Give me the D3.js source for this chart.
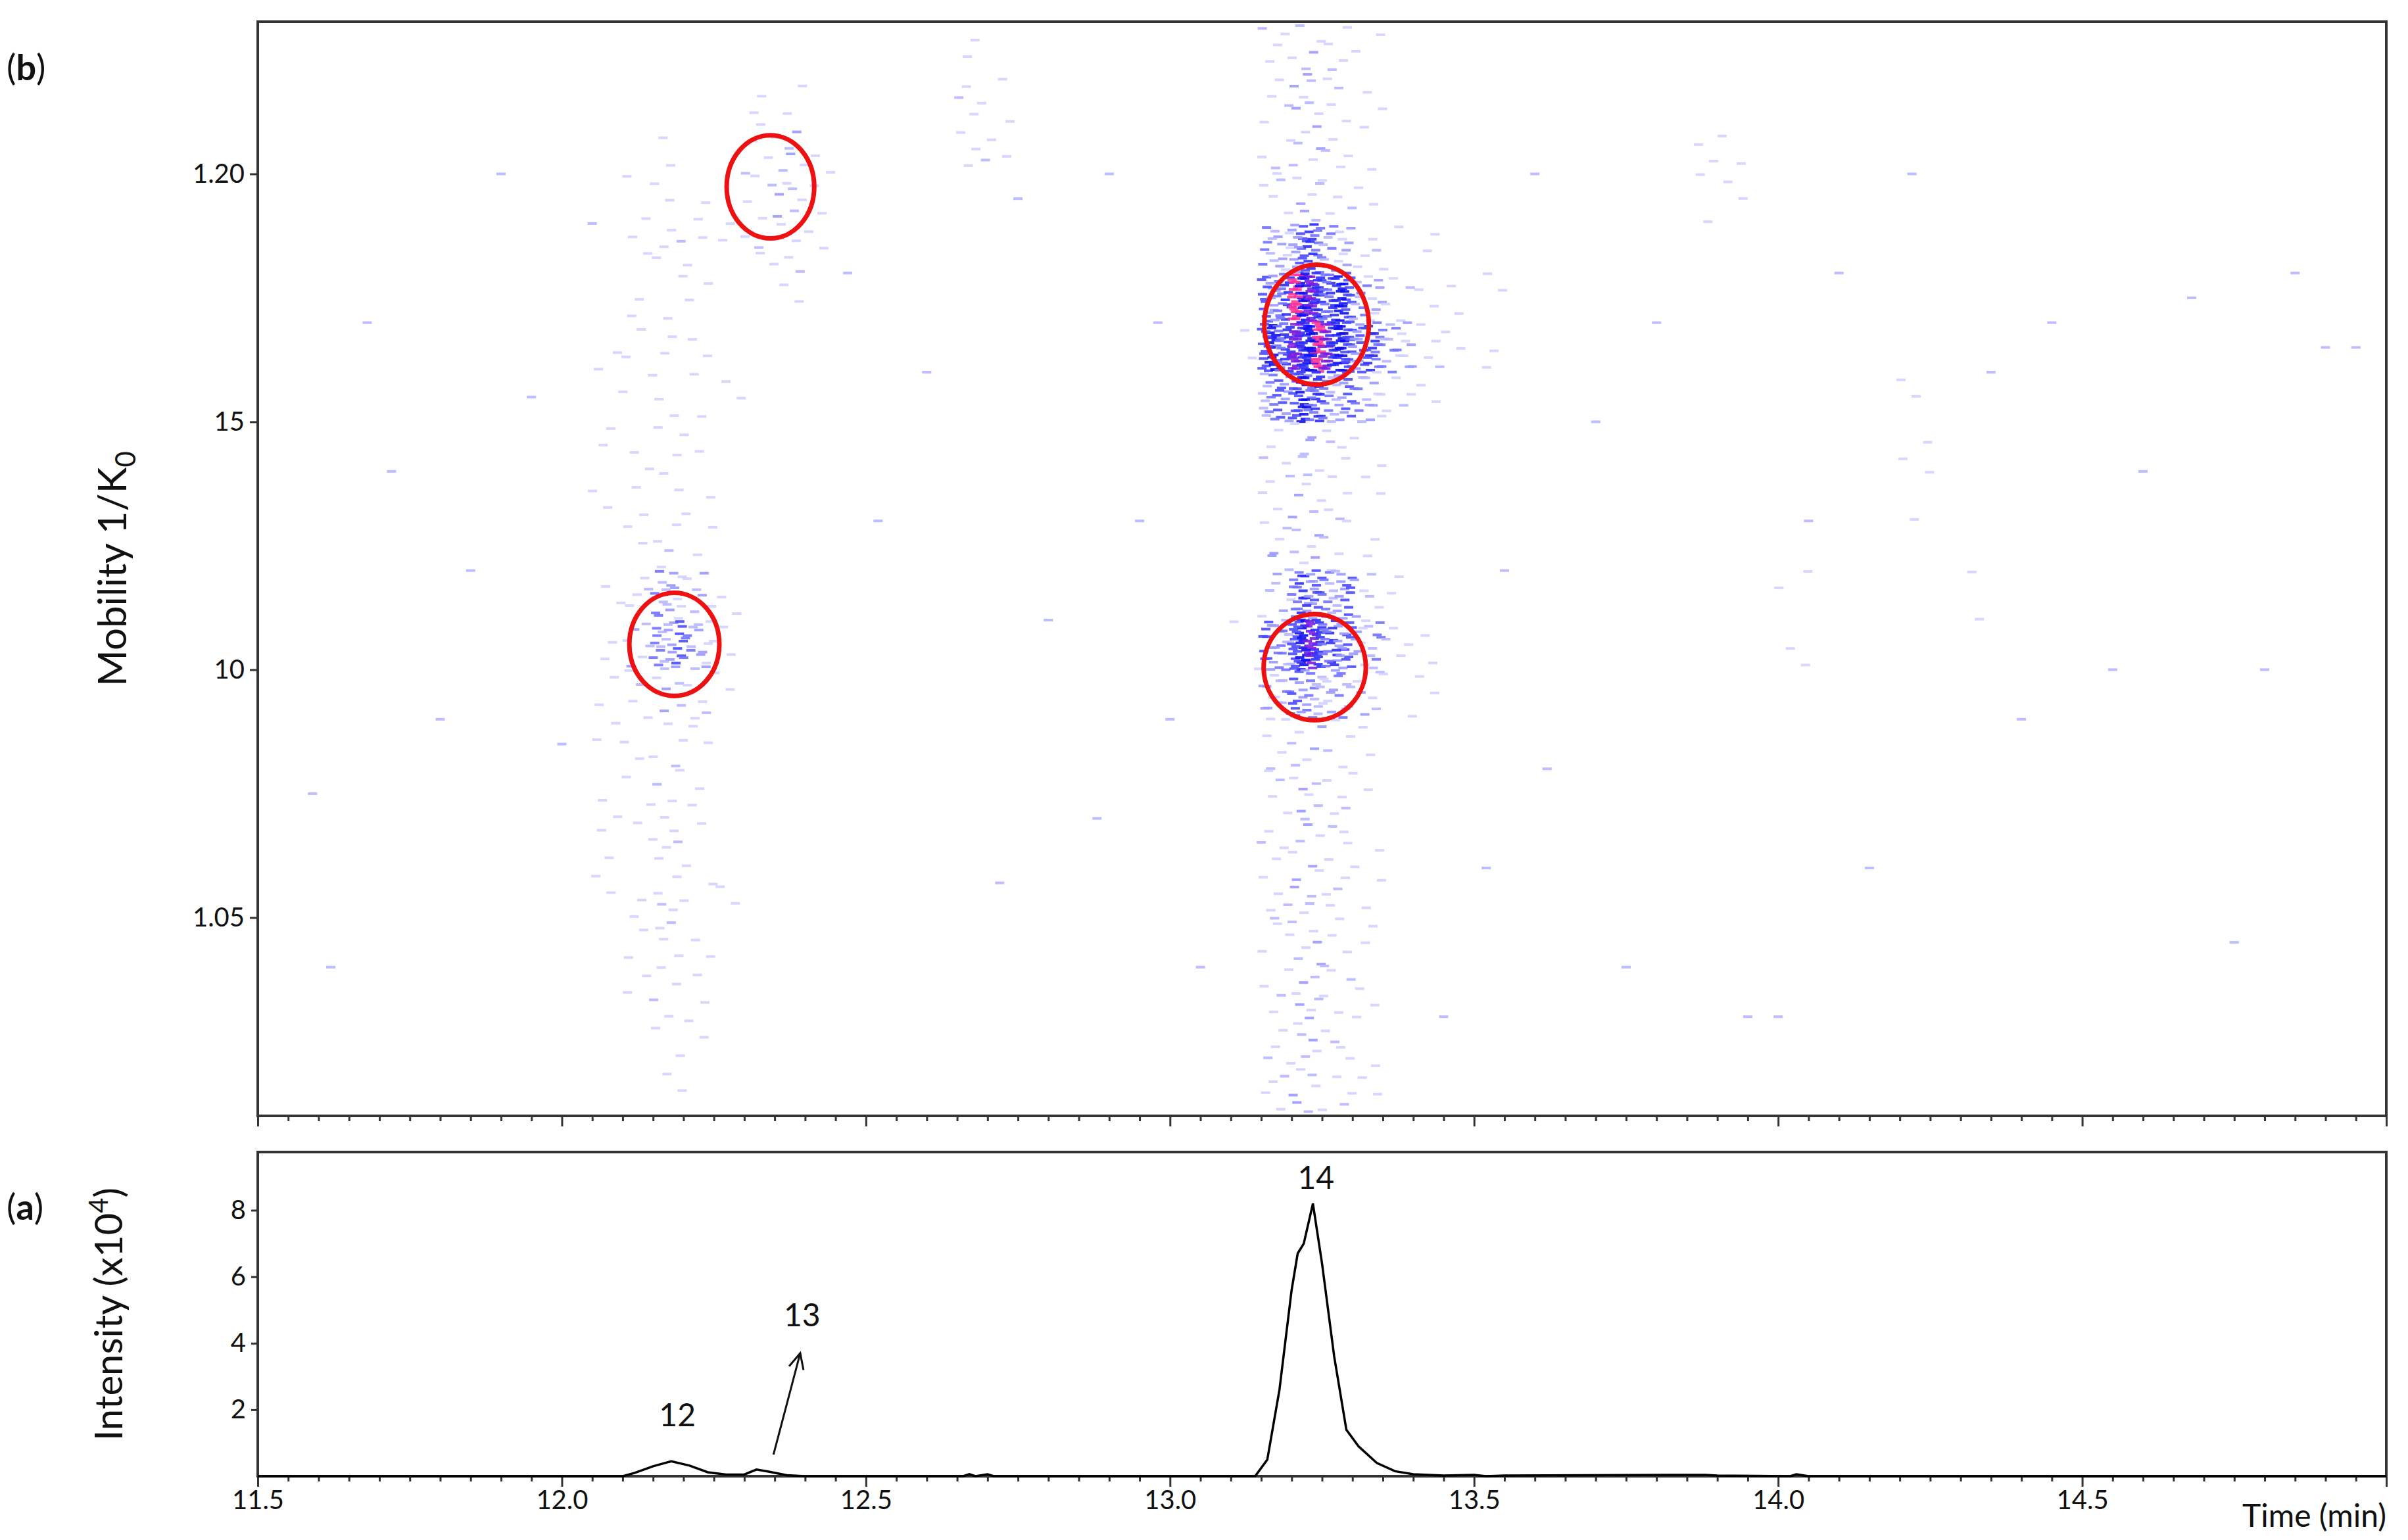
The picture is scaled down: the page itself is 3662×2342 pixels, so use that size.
<!DOCTYPE html>
<html><head><meta charset="utf-8">
<script src="https://cdn.jsdelivr.net/npm/d3@7"></script>
<style>body{margin:0;background:#fff}svg{display:block}text{font-family:Lato,"Open Sans",sans-serif;fill:#111}</style>
</head><body>
<script>
// ---------- DATA ----------
const timeTicks = [11.5,12.0,12.5,13.0,13.5,14.0,14.5];
const mobTickValues = [1.20,1.15,1.10,1.05];
const mobTickLabels = ["1.20","15","10","1.05"];
const intTicks = [2,4,6,8];
// density grid: column start time (0.05 min wide), 22 rows from 1.23 (top) to 1.01 (bottom), 0.01 each
const gridTimes = [12.05,12.10,12.15,12.20,12.25,12.30,12.35,12.40,12.65,12.70,13.10,13.15,13.20,13.25,13.30,13.35,13.40,13.45,13.50,13.85,13.90,14.00,14.20,14.30];
const gridRows = [
"0000001011011111110000",
"0001111111123211111100",
"0011211111245322222211",
"0001111111134211111110",
"0000100100011100010000",
"0122200000000000000000",
"0133210000000000000000",
"0011100000000000000000",
"1220000000000000000000",
"0110000000000000000000",
"0000001000001000000000",
"2222467522335422222222",
"3333699733368533333333",
"2222478522256422222222",
"1111246411134311111111",
"0000124200012100000000",
"0000112100001100000000",
"0000011000000000000000",
"0000011000000000000000",
"0011000000000000000000",
"0011000000000000000000",
"0000000000011000000000",
"0000000111000000000000",
"0000000000010000000000"
];
// isolated noise dots [time, mobility]
const noiseDots = [[11.62,1.04],[11.59,1.075],[11.68,1.17],[11.72,1.14],[11.8,1.09],[11.85,1.12],[11.9,1.2],[11.95,1.155],[12.0,1.085],[12.05,1.19],[12.47,1.18],[12.52,1.13],[12.6,1.16],[12.75,1.195],[12.8,1.11],[12.88,1.07],[12.9,1.2],[12.95,1.13],[13.0,1.09],[13.05,1.04],[12.98,1.17],[13.55,1.12],[13.6,1.2],[13.62,1.08],[13.7,1.15],[13.75,1.04],[13.8,1.17],[13.95,1.03],[14.05,1.13],[14.1,1.18],[14.15,1.06],[14.22,1.2],[14.35,1.16],[14.4,1.09],[14.45,1.17],[14.55,1.1],[14.6,1.14],[14.68,1.175],[14.75,1.045],[14.8,1.1],[14.85,1.18],[14.9,1.165],[14.95,1.165],[12.72,1.057],[13.45,1.03],[13.52,1.06],[14.0,1.03],[12.83,1.01]];
// red circles: [time, mobility, rx (min), ry (mobility)]
const circles = [[12.343,1.1974,0.072,0.0104],[12.185,1.1051,0.074,0.0104],[13.241,1.1696,0.086,0.0121],[13.238,1.1005,0.084,0.0107]];
// chromatogram (intensity x10^4)
const chromTime = [11.5,12.10,12.12,12.15,12.18,12.21,12.24,12.27,12.30,12.32,12.34,12.37,12.40,12.66,12.67,12.68,12.70,12.71,13.14,13.16,13.18,13.20,13.21,13.22,13.235,13.25,13.27,13.29,13.31,13.34,13.37,13.40,13.45,13.50,13.52,13.55,13.86,13.88,13.90,14.02,14.03,14.05,15.0];
const chromInt  = [0,0,0.1,0.3,0.45,0.32,0.12,0.05,0.05,0.2,0.14,0.03,0,0,0.06,0,0.06,0,0,0.5,2.6,5.6,6.7,7.0,8.2,6.4,3.6,1.4,0.9,0.4,0.15,0.06,0.02,0.04,0,0.02,0.04,0.04,0.02,0,0.06,0,0];
const peakLabels = [{t:12.19,v:1.5,label:"12"},{t:12.395,v:4.5,label:"13"},{t:13.24,v:8.65,label:"14"}];

// ---------- LAYOUT ----------
const W=3662,H=2342, L=392, R=3629, T1=33, B1=1697, T2=1752, B2=2245;
const svg=d3.select("body").append("svg").attr("width",W).attr("height",H);
const x=d3.scaleLinear().domain([11.5,15.0]).range([L,R]);
const y1=d3.scaleLinear().domain([1.01,1.2307]).range([B1,T1]);
const y2=d3.scaleLinear().domain([0,9.75]).range([B2,T2]);
const fs=40;

// heat dots (placed on a fixed low-discrepancy layout inside each cell)
function radInv(i,b){let f=1,r=0;while(i>0){f/=b;r+=f*(i%b);i=Math.floor(i/b);}return r;}
const col=d3.scaleLinear().domain([1,3,5,7,8,9]).range(["#d2d2ff","#9a9aff","#4a4aff","#1010f0","#7a1ee0","#ff3399"]);
const dots=[];
gridTimes.forEach((t,ci)=>{
  const s=gridRows[ci];
  for(let r=0;r<s.length;r++){
    const v=+s[r]; if(!v) continue;
    const n=v<=3?v*2:v*v;
    const m0=1.23-0.01*r;
    const off=ci*13+r*7;
    for(let i=0;i<n;i++){
      const fx=radInv(i+off+1,2);
      const fy=radInv(i+off+1,3);
      const lvl=Math.max(1,Math.min(9,v-((i*5)%4)));
      dots.push({t:t+fx*0.05,m:m0-fy*0.01,c:col(lvl)});
    }
  }
});
noiseDots.forEach(d=>dots.push({t:d[0],m:d[1],c:col(2)}));
svg.append("g").selectAll("rect").data(dots).join("rect")
  .attr("x",d=>x(d.t)-7).attr("y",d=>y1(d.m)-2).attr("width",14).attr("height",4)
  .attr("fill",d=>d.c).attr("opacity",0.9);

// circles
svg.append("g").selectAll("ellipse").data(circles).join("ellipse")
  .attr("cx",d=>x(d[0])).attr("cy",d=>y1(d[1]))
  .attr("rx",d=>x(d[0]+d[2])-x(d[0])).attr("ry",d=>y1(d[1]-d[3])-y1(d[1]))
  .attr("fill","none").attr("stroke","#ee1111").attr("stroke-width",7);

// frames
[[T1,B1],[T2,B2]].forEach(([a,b])=>svg.append("rect").attr("x",L).attr("y",a).attr("width",R-L).attr("height",b-a).attr("fill","none").attr("stroke","#333").attr("stroke-width",4));

// axes top
const ax1=svg.append("g").attr("transform",`translate(${L},0)`).call(d3.axisLeft(y1).tickValues(mobTickValues).tickFormat((d,i)=>mobTickLabels[i]).tickSize(12).tickPadding(8));
const bx1=svg.append("g").attr("transform",`translate(0,${B1})`).call(d3.axisBottom(x).tickValues(d3.range(11.5,15.001,0.05)).tickFormat("").tickSize(8));
bx1.selectAll(".tick line").filter(d=>Math.abs(d*2-Math.round(d*2))<1e-6).attr("y2",16);
// axes bottom
const ax2=svg.append("g").attr("transform",`translate(${L},0)`).call(d3.axisLeft(y2).tickValues(intTicks).tickSize(10).tickPadding(8));
const bx2=svg.append("g").attr("transform",`translate(0,${B2})`).call(d3.axisBottom(x).tickValues(d3.range(11.5,15.001,0.05)).tickFormat(d=>timeTicks.some(t=>Math.abs(t-d)<1e-6)?d.toFixed(1):"").tickSize(8).tickPadding(14));
bx2.selectAll(".tick line").filter(d=>Math.abs(d*2-Math.round(d*2))<1e-6).attr("y2",16);
[ax1,bx1,ax2,bx2].forEach(a=>{a.select(".domain").remove();a.selectAll("line").attr("stroke","#333").attr("stroke-width",3);a.selectAll("text").style("font-size",fs+"px").style("font-family","Lato,sans-serif").attr("fill","#111");});

// chromatogram
svg.append("path").datum(chromTime.map((t,i)=>[t,chromInt[i]]))
  .attr("d",d3.line().x(d=>x(d[0])).y(d=>y2(d[1])))
  .attr("fill","none").attr("stroke","#000").attr("stroke-width",3.5);
svg.append("g").selectAll("text").data(peakLabels).join("text")
  .attr("x",d=>x(d.t)).attr("y",d=>y2(d.v)).attr("text-anchor","middle").style("font-size","48px").text(d=>d.label);
// arrow
const ax0=x(12.348),ay0=y2(0.65),ax3=x(12.392),ay3=y2(3.7);
svg.append("line").attr("x1",ax0).attr("y1",ay0).attr("x2",ax3).attr("y2",ay3).attr("stroke","#111").attr("stroke-width",3);
const ang=Math.atan2(ay3-ay0,ax3-ax0);
const hl=26;
svg.append("path").attr("d",`M${ax3-hl*Math.cos(ang-0.45)},${ay3-hl*Math.sin(ang-0.45)}L${ax3},${ay3}L${ax3-hl*Math.cos(ang+0.45)},${ay3-hl*Math.sin(ang+0.45)}`).attr("fill","none").attr("stroke","#111").attr("stroke-width",3);

// titles
const t1=svg.append("text").attr("transform",`translate(192,${(T1+B1)/2}) rotate(-90)`).attr("text-anchor","middle").style("font-size","60px");
t1.append("tspan").text("Mobility 1/K");
t1.append("tspan").attr("dy",14).style("font-size","42px").text("0");
const t2=svg.append("text").attr("transform",`translate(186,${(T2+B2)/2}) rotate(-90)`).attr("text-anchor","middle").style("font-size","58px");
t2.append("tspan").text("Intensity (x10");
t2.append("tspan").attr("dy",-22).style("font-size","40px").text("4");
t2.append("tspan").attr("dy",22).text(")");
svg.append("text").attr("x",R).attr("y",2322).attr("text-anchor","end").style("font-size","48px").text("Time (min)");
const lb=svg.append("text").attr("x",10).attr("y",122).style("font-size","54px");
lb.append("tspan").text("(");lb.append("tspan").style("font-weight","bold").text("b");lb.append("tspan").text(")");
const la=svg.append("text").attr("x",10).attr("y",1855).style("font-size","54px");
la.append("tspan").text("(");la.append("tspan").style("font-weight","bold").text("a");la.append("tspan").text(")");
</script>
</body></html>
